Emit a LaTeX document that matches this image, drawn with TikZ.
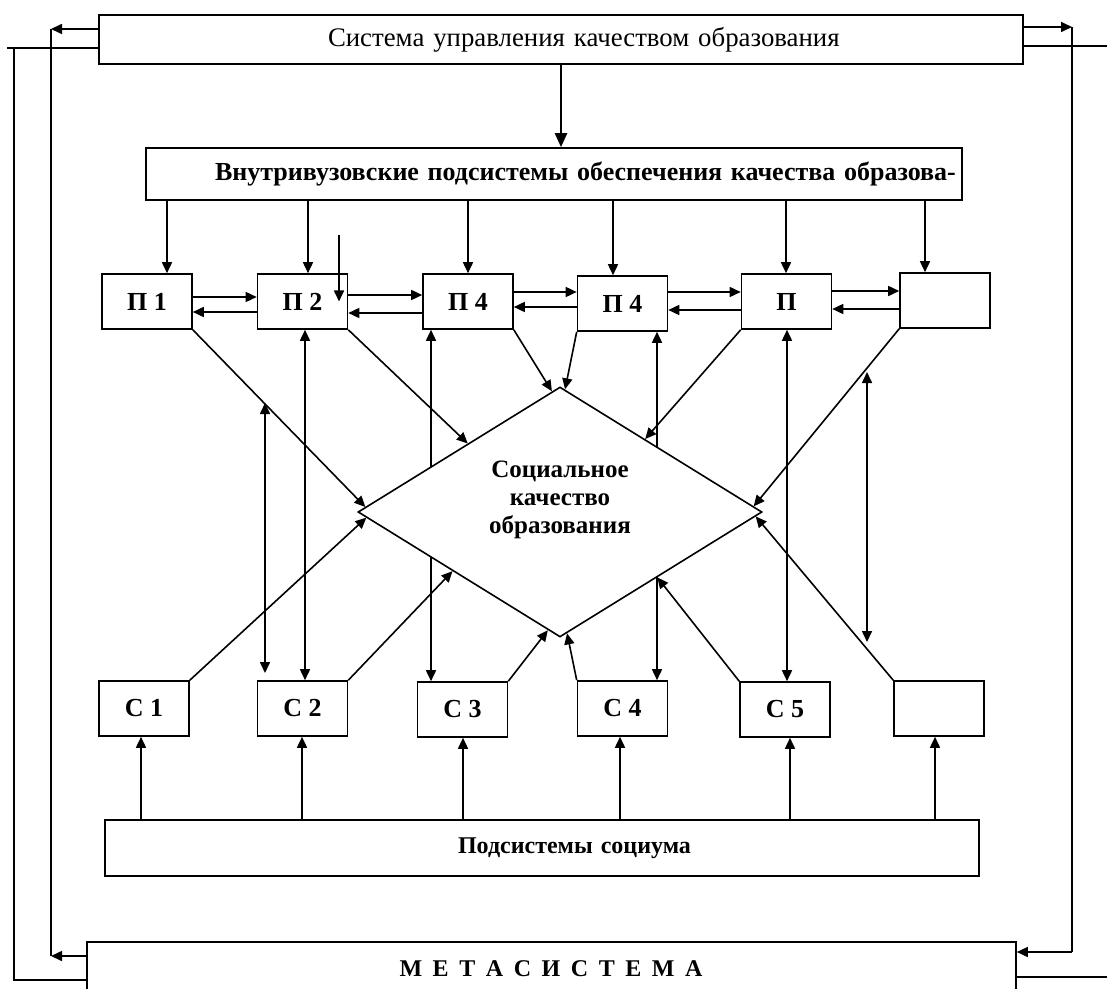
\documentclass[tikz,border=0pt]{standalone}
\usepackage{fontspec}
\setmainfont{Liberation Serif}
\newfontfamily\spacedfont[LetterSpace=19]{Liberation Serif}
\usetikzlibrary{shapes.geometric,arrows.meta,positioning,calc}

\begin{document}
\begin{tikzpicture}[
    x=0.5pt, y=-0.5pt,
    line width=0.8pt,
    box/.style={rectangle, draw, fill=white, inner sep=0pt, minimum width=45pt, minimum height=27.5pt, font=\fontsize{13}{15}\selectfont\bfseries},
    wide/.style={rectangle, draw, fill=white, inner xsep=0pt, inner ysep=0pt, align=left},
    arr/.style={-{Triangle[length=5.5pt,width=5pt]}},
    bigarr/.style={-{Triangle[length=7pt,width=6pt]}, line width=1.2pt},
    dbl/.style={{Triangle[length=5.5pt,width=5pt]}-{Triangle[length=5.5pt,width=5pt]}}
]
    \useasboundingbox (0,0) rectangle (1107,989);
    \clip (0,0) rectangle (1107,989);

    \node [wide, minimum width=462pt, text width=462pt, minimum height=24.5pt, font=\fontsize{13.4}{15}\selectfont] (sys) at (561,39.5) {\hspace*{114.5pt}\mbox{Система управления качеством образования}};
    \node [wide, minimum width=408pt, text width=408pt, minimum height=26pt, font=\fontsize{13}{15}\selectfont\bfseries] (vnut) at (554,174) {\hspace*{34.5pt}\mbox{Внутривузовские подсистемы обеспечения качества образова-}};

    \node [box] (p1) at (147,301.5) {П 1};
    \node [box] (p2) at (302.5,301.5) {П 2};
    \node [box] (p3) at (468,301.5) {П 4};
    \node [box] (p4) at (622.5,303.5) {П 4};
    \node [box] (p5) at (786.5,301.5) {П};
    \node [box] (p6) at (945,300.5) {};

    \node [box] (c1) at (144,708.5) {С 1};
    \node [box] (c2) at (302.5,708.5) {С 2};
    \node [box] (c3) at (462.5,709.5) {С 3};
    \node [box] (c4) at (622.5,708.5) {С 4};
    \node [box] (c5) at (785,709.5) {С 5};
    \node [box] (c6) at (939,708.5) {};

    \node [wide, minimum width=437pt, text width=437pt, minimum height=28pt, font=\fontsize{12}{15}\selectfont\bfseries] (soc) at (542,848) {\hspace*{176.5pt}\mbox{Подсистемы социума}};
    \node [wide, minimum width=464.5pt, minimum height=40pt, anchor=north] (meta) at (551.5,941) {};
    \node [font=\spacedfont\fontsize{12}{14}\selectfont\bfseries] (metat) at (551,969) {М Е Т А С И С Т Е М А};

    \foreach \n/\x in {1/167,2/308,3/468,4/613,5/786,6/925}
        \coordinate (d\n) at (\x,0);
    \foreach \n/\x in {1/141,2/302,3/463,4/620,5/790,6/935}
        \coordinate (u\n) at (\x,0);
    \foreach \n/\x in {2/305,3/431,4/657,5/787}
        \coordinate (k\n) at (\x,0);

    \coordinate (lt) at (51,29);
    \coordinate (lb) at (51,956);
    \coordinate (ot) at (14,48);
    \coordinate (ox) at (7,48);
    \coordinate (ob) at (14,980);
    \coordinate (rt) at (1072,27);
    \coordinate (rb) at (1072,952);
    \coordinate (rx) at (1107,46);
    \coordinate (rbx) at (1107,977);
    \coordinate (e1) at (339,235);
    \coordinate (v1t) at (265,403);
    \coordinate (v1b) at (265,673);
    \coordinate (v6t) at (867,372);
    \coordinate (v6b) at (867,642);

    \draw [arr] (sys.west |- lt) -- (lt);
    \draw (lt) -- (lb);
    \draw [arr] (meta.west |- lb) -- (lb);
    \draw (sys.west |- ot) -- (ox);
    \draw (ot) -- (ob) -- (meta.west |- ob);
    \draw [arr] (sys.east |- rt) -- (rt);
    \draw (rt) -- (rb);
    \draw [arr] (rb) -- (meta.east |- rb);
    \draw (sys.east |- rx) -- (rx);
    \draw (meta.east |- rbx) -- (rbx);

    \draw [bigarr] (sys.south) -- (sys.south |- vnut.north);
    \foreach \n in {1,...,6}
        \draw [arr] (vnut.south -| d\n) -- (p\n.north -| d\n);
    \draw [arr] (e1) -- (p2.center -| e1);

    \foreach \a/\b/\u/\l in {1/2/297/312, 2/3/295/313, 3/4/292/307, 4/5/292/310, 5/6/291/309} {
        \path (0,\u) coordinate (hu) (0,\l) coordinate (hl);
        \draw [arr] (p\a.east |- hu) -- (p\b.west |- hu);
        \draw [arr] (p\b.west |- hl) -- (p\a.east |- hl);
    }

    \foreach \n in {1,...,6}
        \draw [arr] (soc.north -| u\n) -- (c\n.south -| u\n);

    \draw [dbl] (v1t) -- (v1b);
    \draw [dbl] (v6t) -- (v6b);
    \foreach \n in {2,...,5}
        \draw [dbl] (p\n.south -| k\n) -- (c\n.north -| k\n);

    \node [diamond, draw, fill=white, inner sep=0pt, minimum width=202pt, minimum height=125pt] (dia) at (560,512) {};
    \node [font=\fontsize{12.5}{14}\selectfont\bfseries, align=center] (q) at (560,500) {Социальное\\качество\\образования};

    \foreach \s/\a/\b/\t in {p1.south east/west/north/0.04, p2.south east/west/north/0.545, p3.south east/west/north/0.96,
        p4.south west/north/east/0.025, p5.south west/north/east/0.42, p6.south west/north/east/0.955,
        c1.north east/west/south/0.045, c2.north east/west/south/0.47, c3.north east/west/south/0.94,
        c4.north west/south/east/0.035, c5.north west/south/east/0.48, c6.north west/south/east/0.965}
        \draw [arr] (\s) -- ($(dia.\a)!\t!(dia.\b)$);
\end{tikzpicture}
\end{document}
